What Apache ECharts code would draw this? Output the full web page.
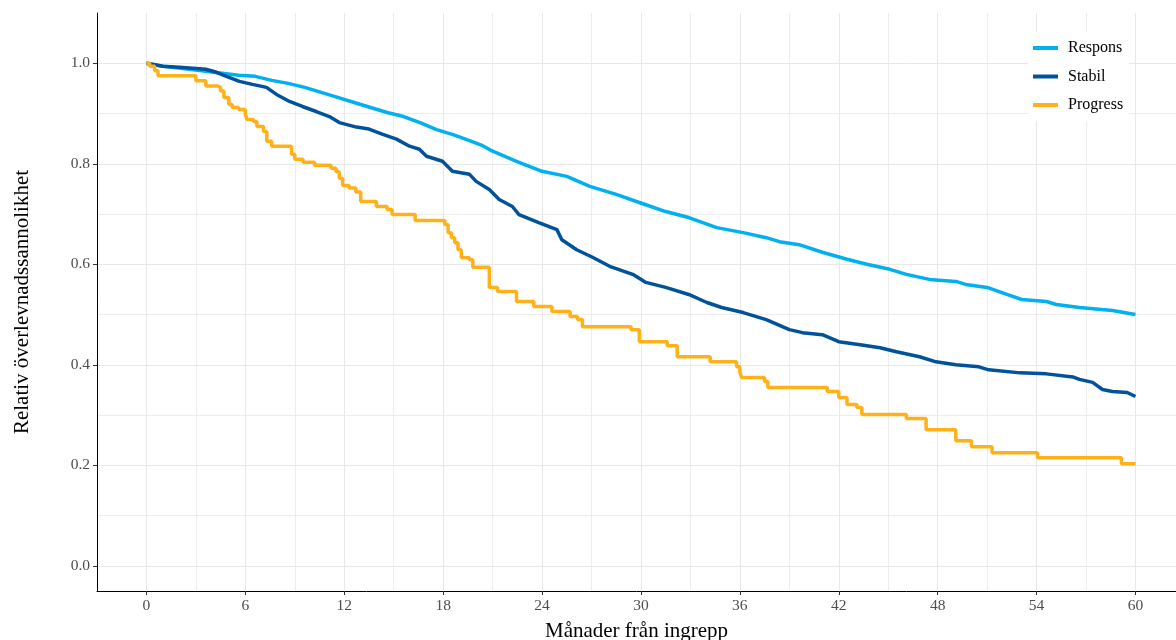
<!DOCTYPE html>
<html lang="sv">
<head>
<meta charset="utf-8" />
<title>Relativ överlevnad</title>
<script src="https://cdn.jsdelivr.net/npm/echarts@6/dist/echarts.min.js"></script>
<style>
  html, body { margin: 0; padding: 0; background: #fff; }
</style>
</head>
<body>
<div id="chart" style="width:1176px;height:640px;"></div>
<script type="text/javascript">
// tick values
const xTicks = [0, 6, 12, 18, 24, 30, 36, 42, 48, 54, 60];
const xMinor = [3, 9, 15, 21, 27, 33, 39, 45, 51, 57];
const yTicks = [0, 0.2, 0.4, 0.6, 0.8, 1.0];
const yMinor = [0.1, 0.3, 0.5, 0.7, 0.9];

// Respons
const responsMonths = [0, 1.0, 2.6, 4.6, 5.6, 6.6, 7.6, 8.6, 9.6, 10.6, 11.6, 12.6, 13.6, 14.6, 15.6, 16.6, 17.6, 18.6, 19.6, 20.4, 21.0, 22.45, 24.0, 25.5, 26.9, 28.5, 29.9, 31.5, 32.9, 34.6, 36.2, 37.6, 38.4, 39.6, 41.0, 42.5, 43.7, 45.1, 46.1, 47.5, 49.1, 49.7, 51.0, 52.2, 53.1, 54.6, 55.2, 56.6, 58.6, 60];
const responsSurv = [1.0, 0.994, 0.988, 0.980, 0.976, 0.974, 0.966, 0.960, 0.952, 0.942, 0.932, 0.922, 0.912, 0.902, 0.894, 0.882, 0.868, 0.858, 0.846, 0.836, 0.825, 0.805, 0.785, 0.775, 0.755, 0.739, 0.723, 0.705, 0.693, 0.673, 0.663, 0.653, 0.645, 0.639, 0.624, 0.610, 0.600, 0.590, 0.580, 0.570, 0.566, 0.560, 0.554, 0.540, 0.530, 0.526, 0.520, 0.514, 0.508, 0.500];

// Stabil
const stabilMonths = [0, 1.0, 2.0, 3.6, 4.25, 4.85, 5.64, 6.43, 7.28, 7.89, 8.68, 9.46, 10.3, 11.1, 11.7, 12.74, 13.5, 14.3, 15.17, 15.96, 16.56, 16.99, 17.96, 18.56, 19.6, 20.0, 20.8, 21.4, 22.2, 22.6, 23.8, 24.9, 25.2, 26.1, 27.06, 28.1, 29.5, 30.3, 31.5, 32.9, 34.0, 34.9, 36.2, 37.6, 39.0, 39.8, 41.0, 42.0, 43.3, 44.5, 45.5, 46.9, 47.9, 49.1, 50.5, 51.1, 53.0, 54.6, 56.2, 56.6, 57.4, 58.0, 58.6, 59.5, 60];
const stabilSurv = [1.0, 0.994, 0.992, 0.988, 0.982, 0.974, 0.964, 0.958, 0.952, 0.938, 0.924, 0.914, 0.904, 0.894, 0.882, 0.873, 0.869, 0.859, 0.849, 0.835, 0.829, 0.815, 0.805, 0.785, 0.779, 0.765, 0.749, 0.729, 0.715, 0.699, 0.683, 0.669, 0.649, 0.629, 0.614, 0.596, 0.580, 0.564, 0.554, 0.540, 0.524, 0.514, 0.504, 0.490, 0.470, 0.464, 0.460, 0.446, 0.440, 0.434, 0.426, 0.416, 0.406, 0.400, 0.396, 0.390, 0.384, 0.382, 0.376, 0.371, 0.365, 0.351, 0.347, 0.345, 0.337];

// Progress (steps)
const progressMonths = [0, 0.2, 0.5, 0.7, 3.0, 3.6, 4.3, 4.5, 4.7, 5.0, 5.2, 5.6, 6.0, 6.1, 6.5, 6.7, 7.1, 7.3, 7.6, 8.8, 9.0, 9.5, 10.2, 11.2, 11.5, 11.7, 11.9, 12.3, 12.7, 13.0, 13.95, 14.6, 14.9, 16.3, 18.1, 18.3, 18.5, 18.7, 18.9, 19.1, 19.6, 19.8, 20.8, 21.3, 22.45, 23.5, 24.6, 25.7, 26.15, 26.45, 29.4, 29.9, 31.6, 32.2, 34.2, 35.8, 36.0, 36.1, 37.5, 37.7, 41.3, 42.0, 42.5, 43.1, 43.4, 46.1, 47.3, 49.1, 50.05, 51.3, 54.06, 59.15, 60];
const progressSurv = [1.0, 0.994, 0.985, 0.975, 0.965, 0.955, 0.952, 0.945, 0.932, 0.918, 0.912, 0.908, 0.898, 0.888, 0.884, 0.874, 0.864, 0.845, 0.835, 0.819, 0.809, 0.803, 0.797, 0.791, 0.784, 0.771, 0.757, 0.752, 0.744, 0.725, 0.715, 0.709, 0.699, 0.687, 0.679, 0.663, 0.653, 0.643, 0.629, 0.613, 0.609, 0.594, 0.554, 0.546, 0.526, 0.516, 0.506, 0.496, 0.490, 0.476, 0.470, 0.446, 0.438, 0.416, 0.406, 0.396, 0.386, 0.375, 0.367, 0.355, 0.347, 0.335, 0.321, 0.315, 0.301, 0.293, 0.271, 0.249, 0.237, 0.225, 0.215, 0.203, 0.203];

function pairs(xs, ys) {
    return xs.map(function (x, i) { return [x, ys[i]]; });
}

const serif = '"Liberation Serif", "DejaVu Serif", serif';
const gridColor = '#e8e8e8';
// panel is cut at the right edge of the picture
const xMin = -3, xMax = 62.46;
const yMin = -0.05, yMax = 1.1;

const myChart = echarts.init(document.getElementById('chart'));
const option = {
    backgroundColor: '#fff',
    animation: false,
    grid: { left: 97, top: 13, right: 0, bottom: 49, outerBoundsMode: 'none' },
    legend: {
        left: 1028,
        top: 32,
        orient: 'vertical',
        icon: 'rect',
        itemWidth: 25,
        itemHeight: 4,
        itemGap: 12.5,
        padding: [8, 6, 8, 5],
        backgroundColor: '#fff',
        textStyle: { fontFamily: serif, fontSize: 16, color: '#000', lineHeight: 16, padding: [0, 0, 0, 5] },
        data: ['Respons', 'Stabil', 'Progress']
    },
    xAxis: [{
        type: 'value',
        min: xMin,
        max: xMax,
        name: 'Månader från ingrepp',
        nameLocation: 'middle',
        nameGap: 30,
        nameTextStyle: { fontFamily: serif, fontSize: 21, color: '#000' },
        axisLine: { show: true, onZero: false, lineStyle: { color: '#000', width: 1 } },
        axisTick: { show: true, length: 4, lineStyle: { color: '#333' }, customValues: xTicks },
        axisLabel: { customValues: xTicks, fontFamily: serif, fontSize: 15.5, color: '#4d4d4d', margin: 7 },
        splitLine: { show: true, lineStyle: { color: gridColor, width: 1 } }
    }, {
        type: 'value',
        min: xMin,
        max: xMax,
        position: 'bottom',
        axisLine: { show: false },
        axisTick: { show: false, customValues: xMinor },
        axisLabel: { show: false, customValues: xMinor },
        splitLine: { show: true, lineStyle: { color: gridColor, width: 0.8 } }
    }],
    yAxis: [{
        type: 'value',
        min: yMin,
        max: yMax,
        name: 'Relativ överlevnadssannolikhet',
        nameLocation: 'middle',
        nameGap: 64,
        nameTextStyle: { fontFamily: serif, fontSize: 21, color: '#000' },
        axisLine: { show: true, onZero: false, lineStyle: { color: '#000', width: 1 } },
        axisTick: { show: true, length: 4, lineStyle: { color: '#333' }, customValues: yTicks },
        axisLabel: {
            customValues: yTicks, fontFamily: serif, fontSize: 15.5, color: '#4d4d4d', margin: 7,
            formatter: function (v) { return v.toFixed(1); }
        },
        splitLine: { show: true, lineStyle: { color: gridColor, width: 1 } }
    }, {
        type: 'value',
        min: yMin,
        max: yMax,
        position: 'left',
        axisLine: { show: false },
        axisTick: { show: false, customValues: yMinor },
        axisLabel: { show: false, customValues: yMinor },
        splitLine: { show: true, lineStyle: { color: gridColor, width: 0.8 } }
    }],
    series: [{
        name: 'Respons',
        type: 'line',
        data: pairs(responsMonths, responsSurv),
        showSymbol: false,
        lineStyle: { color: '#00b0f0', width: 3.5 },
        itemStyle: { color: '#00b0f0' }
    }, {
        name: 'Stabil',
        type: 'line',
        data: pairs(stabilMonths, stabilSurv),
        showSymbol: false,
        lineStyle: { color: '#00539b', width: 3.5 },
        itemStyle: { color: '#00539b' }
    }, {
        name: 'Progress',
        type: 'line',
        step: 'end',
        data: pairs(progressMonths, progressSurv),
        showSymbol: false,
        lineStyle: { color: '#ffb11a', width: 3.5 },
        itemStyle: { color: '#ffb11a' }
    }]
};
myChart.setOption(option);
</script>
</body>
</html>
